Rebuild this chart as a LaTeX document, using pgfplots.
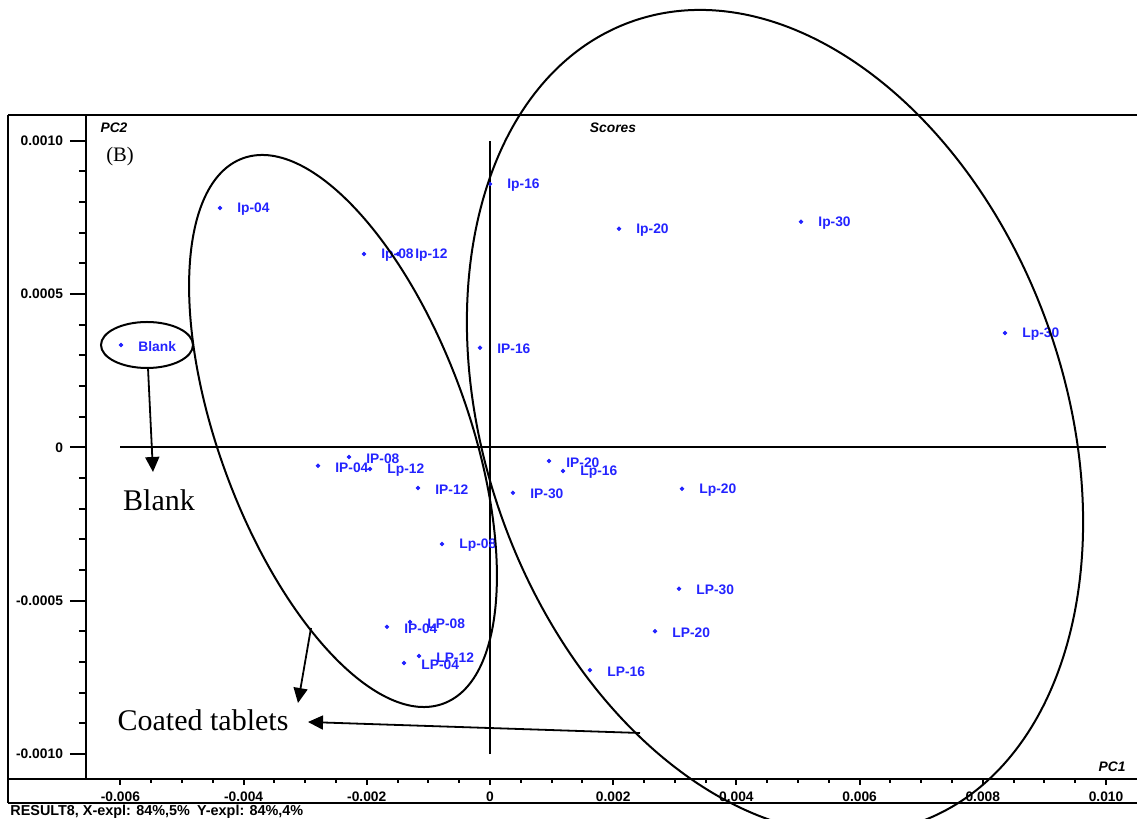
\documentclass[border=0pt]{standalone}
\usepackage{pgfplots}
\pgfplotsset{compat=1.18}
\usepackage{pgfplotstable}
\usepackage{fontspec}
\setmainfont{Liberation Sans}
\newfontfamily\seriffont{Liberation Serif}
\usetikzlibrary{arrows.meta}
\definecolor{scoreblue}{RGB}{35,35,255}

% PCA scores: PC1, PC2 and sample name
\pgfplotstableread{
x y label
-0.004383 0.000781 Ip-04
-0.002045 0.000631 Ip-08
-0.001494 0.000631 Ip-12
0.000000 0.000859 Ip-16
0.002094 0.000713 Ip-20
0.005049 0.000736 Ip-30
0.008360 0.000373 Lp-30
-0.005990 0.000334 Blank
-0.000162 0.000325 IP-16
-0.002289 -0.000031 IP-08
-0.002792 -0.000060 IP-04
-0.001948 -0.000070 Lp-12
-0.001169 -0.000132 IP-12
0.000373 -0.000148 IP-30
0.000958 -0.000044 IP-20
0.001185 -0.000077 Lp-16
0.003117 -0.000135 Lp-20
-0.000779 -0.000315 Lp-08
0.003068 -0.000461 LP-30
0.002679 -0.000599 LP-20
0.001623 -0.000726 LP-16
-0.001672 -0.000585 IP-04
-0.001299 -0.000569 LP-08
-0.001153 -0.000680 LP-12
-0.001396 -0.000703 LP-04
}\scores

\pgfplotsset{
  frameaxis/.style={
    at={(0pt,0pt)}, anchor=south west, scale only axis,
    width=525.5pt, height=332pt,
    xmin=-0.006558, xmax=0.010503, ymin=-0.001081, ymax=0.001084,
    axis line style={draw=none},
    scaled ticks=false, tick align=outside,
    every tick/.style={black, line width=1pt},
    ticklabel style={font=\fontsize{6.9}{8}\selectfont\bfseries},
    clip=false,
  }
}

\begin{document}
\begin{tikzpicture}[px/.style={shift={(-43pt,389.5pt)}, x=0.5pt, y=-0.5pt}]
\clip[px] (0,0) rectangle (1137,819);

% x axis ticks in the bottom strip
\begin{axis}[frameaxis,
  xtick={-0.006,-0.004,-0.002,0,0.002,0.004,0.006,0.008,0.010},
  xticklabels={-0.006,-0.004,-0.002,0,0.002,0.004,0.006,0.008,0.010},
  minor x tick num=3, ytick=\empty, xtick pos=left,
  major tick length=3pt, minor tick length=1.8pt,
]
\end{axis}

% scores with y axis ticks
\begin{axis}[frameaxis,
  ytick={-0.001,-0.0005,0,0.0005,0.001},
  yticklabels={-0.0010,-0.0005,0,0.0005,0.0010},
  minor y tick num=4, xtick=\empty, ytick pos=left,
  major tick length=8pt, minor tick length=3.5pt,
]
\addplot[black, line width=1pt] coordinates {(-0.006,0) (0.010,0)};
\addplot[black, line width=1pt] coordinates {(0,-0.001) (0,0.001)};
\addplot[only marks, mark=*, mark size=0.9pt, color=scoreblue,
  point meta=explicit symbolic, nodes near coords,
  nodes near coords style={anchor=west, xshift=8.5pt, yshift=-0.7pt, inner sep=0pt,
    font=\fontsize{6.9}{8}\selectfont\bfseries, text=scoreblue}]
  table[x=x, y=y, meta=label] {\scores};
\end{axis}

\begin{scope}[px]
  % frame
  \draw[line width=1pt] (8,115) -- (1137,115);
  \draw[line width=1pt] (8,115) -- (8,803);
  \draw[line width=1pt] (86,115) -- (86,779);
  \draw[line width=1pt] (8,779) -- (1137,779);
  \draw[line width=1pt] (8,803) -- (1137,803);

  % titles
  \node[font=\fontsize{6.9}{8}\selectfont\bfseries\itshape] at (114,128) {PC2};
  \node[font=\fontsize{6.9}{8}\selectfont\bfseries\itshape] at (613,128) {Scores};
  \node[font=\fontsize{6.9}{8}\selectfont\bfseries\itshape] at (1112,767) {PC1};
  \node[font=\fontsize{7.2}{8}\selectfont\bfseries, anchor=west, inner sep=0pt] at (10,812)
    {RESULT8, X-expl: 84\%,5\%\hspace{0.5em}Y-expl: 84\%,4\%};
  \node[font=\seriffont\fontsize{10.3}{12}\selectfont] at (120,157) {(B)};

  % group outlines
  \draw[line width=1pt] (147,345) ellipse [x radius=23pt, y radius=11.5pt];
  \begin{scope}[shift={(343,431)}, x=1pt, y=1pt, rotate=110.2]
    \draw[line width=1pt] (0,0) ellipse [x radius=145.25pt, y radius=62.2pt];
  \end{scope}
  \begin{scope}[shift={(775,422)}, x=1pt, y=1pt, rotate=109.8]
    \draw[line width=1pt] (0,0) ellipse [x radius=212.65pt, y radius=144.7pt];
  \end{scope}

  % annotations
  \draw[line width=0.9pt, -{Triangle[length=7.5pt, width=7pt]}] (148,368) -- (153,472);
  \draw[line width=0.9pt, -{Triangle[length=7.5pt, width=7pt]}] (311,628) -- (298,703);
  \draw[line width=0.9pt, -{Triangle[length=7.5pt, width=7pt]}] (640,733) -- (308,722);
  \node[font=\seriffont\fontsize{15}{18}\selectfont] at (159,500) {Blank};
  \node[font=\seriffont\fontsize{15}{18}\selectfont] at (203,720) {Coated tablets};
\end{scope}
\end{tikzpicture}
\end{document}
